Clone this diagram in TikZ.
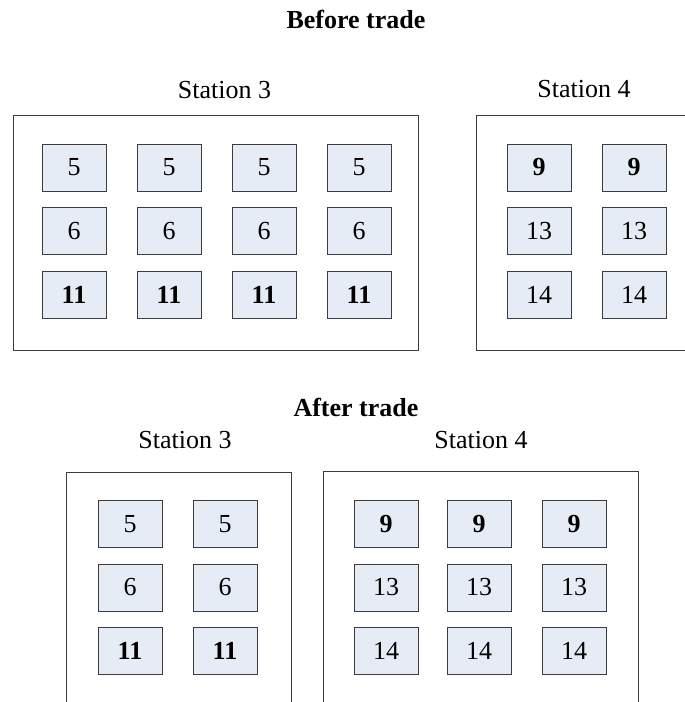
\documentclass[tikz,border=0pt]{standalone}
\usepackage{fontspec}
\setmainfont{Liberation Serif}
\definecolor{cellfill}{RGB}{230,236,246}
\definecolor{edgegray}{RGB}{60,60,60}
\begin{document}
\begin{tikzpicture}[x=1pt,y=-1pt,
  cell/.style={draw=edgegray, line width=0.9pt, fill=cellfill, minimum width=64pt,
    minimum height=47pt, inner sep=0pt, font=\fontsize{26}{30}\selectfont},
  boldcell/.style={cell, font=\fontsize{26}{30}\selectfont\bfseries},
  frame/.style={draw=edgegray, line width=1pt, inner sep=0pt},
  caption/.style={anchor=base, inner sep=0pt, font=\fontsize{26}{30}\selectfont},
  heading/.style={anchor=base, inner sep=0pt, font=\fontsize{26}{30}\selectfont\bfseries}]
\clip (0,0) rectangle (685,702);

% ---------- before trade ----------
\node[heading] (hbefore) at (356,28) {Before trade};
\node[caption] (lbs3) at (224.5,98) {Station 3};
\node[caption] (lbs4) at (584,97) {Station 4};

\node[frame, minimum width=405pt, minimum height=235pt] (fbs3) at (215.5,232.5) {};
\node[frame, minimum width=224pt, minimum height=235pt] (fbs4) at (588,232.5) {};

\foreach \x [count=\i] in {74,169,264,359} {
  \node[cell] (bs3a\i) at (\x,167.5) {5};
  \node[cell] (bs3b\i) at (\x,231) {6};
  \node[boldcell] (bs3c\i) at (\x,294.5) {11};
}
\foreach \x [count=\i] in {539,634} {
  \node[boldcell] (bs4a\i) at (\x,167.5) {9};
  \node[cell] (bs4b\i) at (\x,231) {13};
  \node[cell] (bs4c\i) at (\x,294.5) {14};
}

% ---------- after trade ----------
\node[heading] (hafter) at (356,416) {After trade};
\node[caption] (las3) at (185,448) {Station 3};
\node[caption] (las4) at (481,448) {Station 4};

\node[frame, minimum width=225pt, minimum height=260pt] (fas3) at (178.5,602) {};
\node[frame, minimum width=315pt, minimum height=260pt] (fas4) at (480.5,601.5) {};

\foreach \x [count=\i] in {130,225} {
  \node[cell] (as3a\i) at (\x,524) {5};
  \node[cell] (as3b\i) at (\x,587.5) {6};
  \node[boldcell] (as3c\i) at (\x,651) {11};
}
\foreach \x [count=\i] in {386,479,574} {
  \node[boldcell] (as4a\i) at (\x,524) {9};
  \node[cell] (as4b\i) at (\x,587.5) {13};
  \node[cell] (as4c\i) at (\x,651) {14};
}
\end{tikzpicture}
\end{document}
